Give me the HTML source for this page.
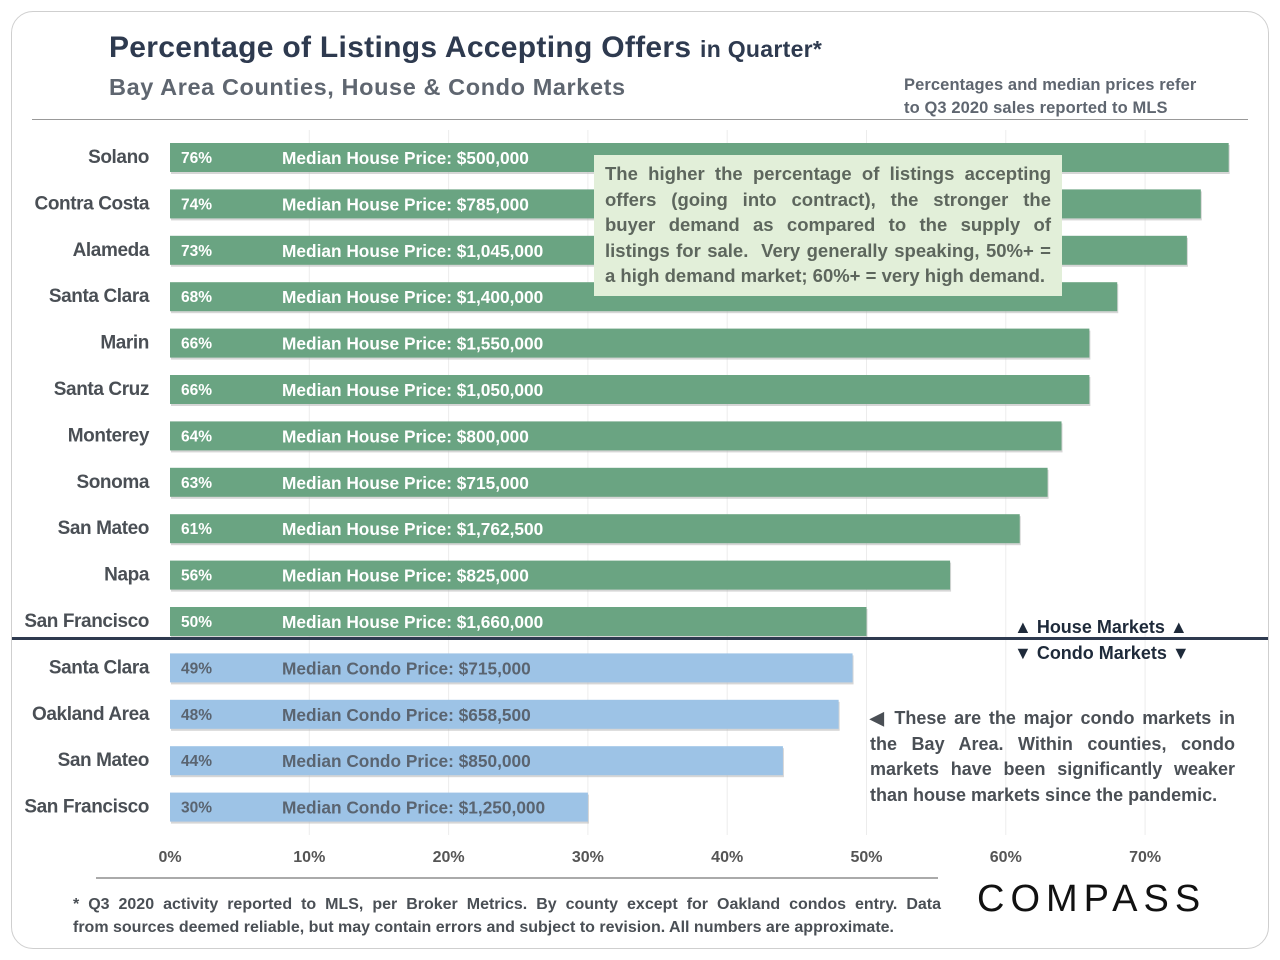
<!DOCTYPE html>
<html><head><meta charset="utf-8"><style>
body{margin:0;width:1280px;height:960px;background:#fff;font-family:"Liberation Sans",sans-serif;position:relative;overflow:hidden}
.abs{position:absolute}
.j{text-align:justify;text-align-last:justify;white-space:nowrap}
.jl{white-space:nowrap}
</style></head><body>
<div class="abs" style="left:11px;top:11px;width:1256px;height:936px;border:1.5px solid #cfcfcf;border-radius:22px"></div>
<div class="abs" style="left:109px;top:31px;font-size:30px;font-weight:bold;color:#2e3a4f;letter-spacing:0.3px">Percentage of Listings Accepting Offers <span style="font-size:23px">in Quarter*</span></div>
<div class="abs" style="left:109px;top:74px;font-size:23.5px;font-weight:bold;color:#5f6670;letter-spacing:0.6px">Bay Area Counties, House &amp; Condo Markets</div>
<div class="abs" style="left:904px;top:74px;font-size:16.5px;font-weight:bold;color:#5f6670;line-height:23px;letter-spacing:0.1px">Percentages and median prices refer<br>to Q3 2020 sales reported to MLS</div>
<div class="abs" style="left:32px;top:119px;width:1216px;height:1px;background:#999"></div>
<svg class="abs" style="left:0;top:0" width="1280" height="960" id="chart"></svg>
<div class="abs" style="left:594px;top:155px;width:446px;height:129px;padding:6px 11px;background:#e2efd9;color:#5d665d;font-size:18.5px;font-weight:bold;line-height:25.6px">
<div class="j">The higher the percentage of listings accepting</div>
<div class="j">offers (going into contract), the stronger the</div>
<div class="j">buyer demand as compared to the supply of</div>
<div class="j">listings for sale.&nbsp; Very generally speaking, 50%+ =</div>
<div class="jl">a high demand market; 60%+ = very high demand.</div>
</div>
<div class="abs" style="left:12px;top:637px;width:1256px;height:3px;background:#2e3a4f"></div>
<div class="abs" style="left:1014px;top:617px;font-size:18px;font-weight:bold;color:#1e2a3a">▲ House Markets ▲</div>
<div class="abs" style="left:1014px;top:643px;font-size:18px;font-weight:bold;color:#1e2a3a">▼ Condo Markets ▼</div>
<div class="abs" style="left:870px;top:706px;width:365px;font-size:18px;font-weight:bold;color:#4a4f55;line-height:25.7px">
<div class="j">◀ These are the major condo markets in</div>
<div class="j">the Bay Area. Within counties, condo</div>
<div class="j">markets have been significantly weaker</div>
<div class="jl">than house markets since the pandemic.</div>
</div>
<div class="abs" style="left:96px;top:877px;width:842px;height:2px;background:#aaa"></div>
<div class="abs" style="left:73px;top:893px;width:868px;font-size:16px;font-weight:bold;color:#4a4f55;line-height:23px">
<div class="j">* Q3 2020 activity reported to MLS, per Broker Metrics. By county except for Oakland condos entry. Data</div>
<div class="jl">from sources deemed reliable, but may contain errors and subject to revision. All numbers are approximate.</div>
</div>
<div class="abs" style="left:977px;top:878px;font-size:38px;color:#111;letter-spacing:6px">COMPASS</div>
<script>
const categories=["Solano","Contra Costa","Alameda","Santa Clara","Marin","Santa Cruz","Monterey","Sonoma","San Mateo","Napa","San Francisco","Santa Clara","Oakland Area","San Mateo","San Francisco"];
const values=[76,74,73,68,66,66,64,63,61,56,50,49,48,44,30];
const types=["house","house","house","house","house","house","house","house","house","house","house","condo","condo","condo","condo"];
const prices=["$500,000","$785,000","$1,045,000","$1,400,000","$1,550,000","$1,050,000","$800,000","$715,000","$1,762,500","$825,000","$1,660,000","$715,000","$658,500","$850,000","$1,250,000"];
const ticks=[0,10,20,30,40,50,60,70];
const svg=document.getElementById('chart');const NS='http://www.w3.org/2000/svg';
const x=v=>170+v*13.93;const y=i=>143+i*46.4;const bh=29;
function mk(t,a){const e=document.createElementNS(NS,t);for(const k in a)e.setAttribute(k,a[k]);svg.appendChild(e);return e;}
ticks.forEach(t=>{if(t>0){const g=mk('line',{x1:x(t),x2:x(t),y1:130,y2:835,stroke:'#ececec','stroke-width':1});}
const tl=mk('text',{x:x(t),y:862,'text-anchor':'middle','font-size':16,'font-weight':'bold',fill:'#555'});tl.textContent=t+'%';});
values.forEach((v,i)=>{const h=types[i]==='house';
const sh=mk('rect',{x:x(0)+1,y:y(i)+2,width:x(v)-x(0),height:bh,fill:'#bbb',opacity:0.6});
const r=mk('rect',{x:x(0),y:y(i),width:x(v)-x(0),height:bh,fill:h?'#6aa482':'#9dc3e6'});
const c=h?'#fff':'#5a6470';
const p=mk('text',{x:181,y:y(i)+20,'font-size':15.5,'font-weight':'bold',fill:c});p.textContent=v+'%';
const m=mk('text',{x:282,y:y(i)+21,'font-size':17.3,'font-weight':'bold',fill:c,'letter-spacing':'0'});m.textContent=(h?'Median House Price: ':'Median Condo Price: ')+prices[i];
const l=mk('text',{x:149,y:y(i)+20,'text-anchor':'end','font-size':19,'font-weight':'bold',fill:'#4a4f55','letter-spacing':'-0.4'});l.textContent=categories[i];});
</script>
</body></html>
